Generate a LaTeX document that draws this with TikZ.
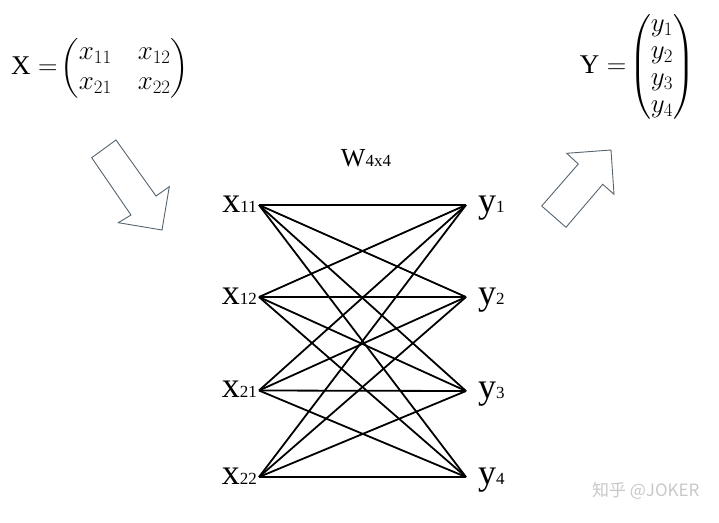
\RequirePackage{fix-cm}
\documentclass[tikz,border=0pt]{standalone}
\usepackage{amsmath}
\usepackage{fontspec}
\setmainfont{Liberation Serif}
\newfontfamily\cjk{Noto Sans CJK SC}
\definecolor{ArrowSlate}{HTML}{56646F}
\definecolor{MarkGray}{HTML}{C8C8C8}
\usetikzlibrary{positioning}

\tikzset{
  unitlabel/.style={inner sep=1pt, font=\fontsize{36}{36}\selectfont},
  matlabel/.style={inner sep=0pt, font=\fontsize{27}{30}\selectfont},
  wedge/.style={line width=1.8pt, black},
  fatarrow/.style={draw=ArrowSlate, line width=0.9pt, line join=miter}
}
% letter with a small, non-lowered index
\newcommand{\unitname}[2]{#1{\fontsize{17}{17}\selectfont #2}}

\begin{document}
\begin{tikzpicture}[x=1pt, y=-1pt]
  \useasboundingbox (0,0) rectangle (719,522);

  % input and output matrices
  \node[matlabel, anchor=west] (Xmat) at (11,68)
    {\setlength{\arraycolsep}{13pt}$\mathrm{X}=\!\begin{pmatrix} x_{11} & x_{12}\\ x_{21} & x_{22}\end{pmatrix}$};
  \node[matlabel, anchor=east] (Ymat) at (695,67)
    {\renewcommand{\arraystretch}{0.9}$\mathrm{Y}=\!\begin{pmatrix} y_1\\ y_2\\ y_3\\ y_4\end{pmatrix}$};

  % block arrows
  \draw[fatarrow] (91.7,157.7) -- (116,140) -- (156,196) -- (169.3,186.7)
    -- (162,230) -- (118.3,222.7) -- (131,215) -- cycle;
  \draw[fatarrow] (541.7,206) -- (578.3,164) -- (566.7,153.3) -- (611,150)
    -- (614,194.3) -- (602.7,184.3) -- (566,227.3) -- cycle;

  % weight label
  \node[font=\fontsize{26}{26}\selectfont] (W) at (366,158) {W{\fontsize{17}{17}\selectfont 4x4}};

  % units
  \coordinate (x11) at (259,205);
  \coordinate (x12) at (259,297);
  \coordinate (x21) at (259,390.5);
  \coordinate (x22) at (259,477);
  \coordinate (y1) at (466,205);
  \coordinate (y2) at (466,297);
  \coordinate (y3) at (466,391);
  \coordinate (y4) at (466,477);

  \foreach \i in {11,12,21,22}
    \node[unitlabel, anchor=base east] (l\i) at ([xshift=-1pt, yshift=-7pt]x\i) {\unitname{x}{\i}};
  \foreach \j in {1,2,3,4}
    \node[unitlabel, anchor=base west] (r\j) at ([xshift=11pt, yshift=-7pt]y\j) {\unitname{y}{\j}};

  % full connections
  \foreach \i in {11,12,21,22}
    \foreach \j in {1,2,3,4}
      \draw[wedge] (x\i) -- (y\j);

  % watermark
  \node[anchor=east, text=MarkGray, font=\cjk\fontsize{17}{17}\selectfont] (mark) at (703,491) {知乎 @JOKER};
\end{tikzpicture}
\end{document}
